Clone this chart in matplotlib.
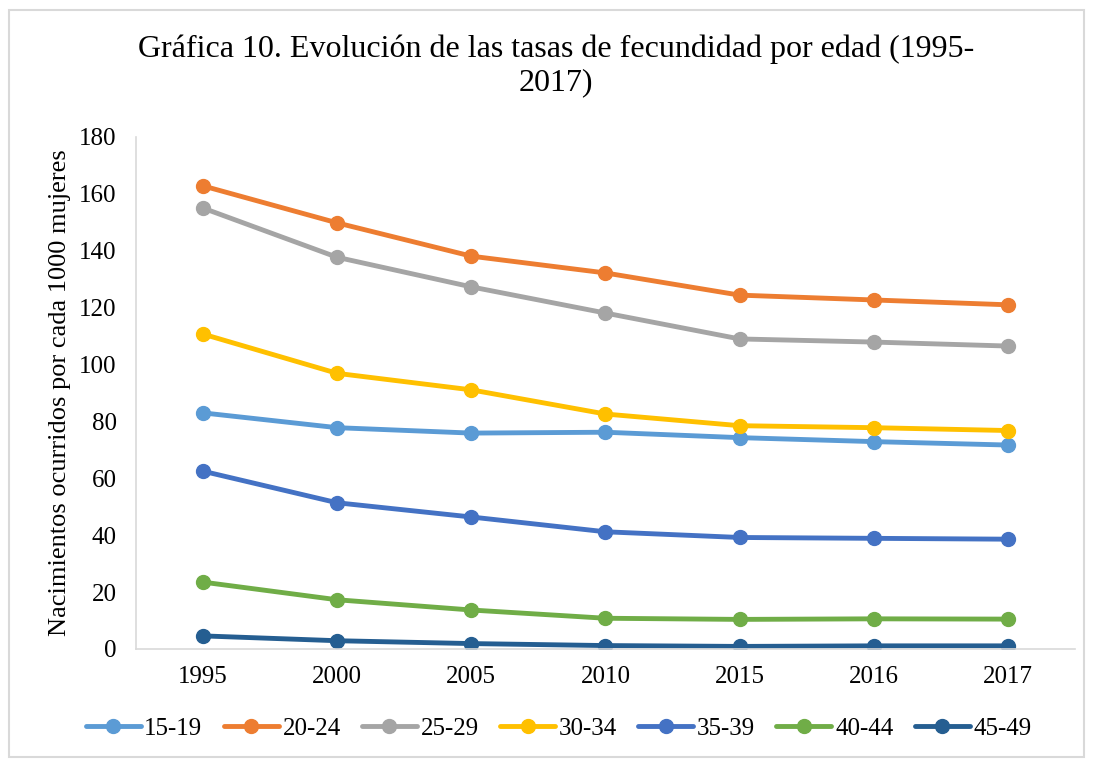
import matplotlib.pyplot as plt
from matplotlib.patches import Rectangle

plt.rcParams['font.family'] = ['Liberation Serif', 'DejaVu Serif']

years = ["1995", "2000", "2005", "2010", "2015", "2016", "2017"]
groups = ["15-19", "20-24", "25-29", "30-34", "35-39", "40-44", "45-49"]

r15_19 = [83.0, 77.8, 75.9, 76.2, 74.3, 72.9, 71.7]
r20_24 = [162.8, 149.8, 138.1, 132.2, 124.4, 122.7, 121.0]
r25_29 = [155.0, 137.7, 127.3, 118.1, 109.0, 107.9, 106.5]
r30_34 = [110.7, 96.9, 91.1, 82.6, 78.5, 77.8, 76.8]
r35_39 = [62.5, 51.4, 46.4, 41.2, 39.2, 38.9, 38.6]
r40_44 = [23.5, 17.3, 13.7, 10.8, 10.4, 10.6, 10.5]
r45_49 = [4.6, 2.9, 1.9, 1.2, 0.9, 1.1, 1.1]

series = [r15_19, r20_24, r25_29, r30_34, r35_39, r40_44, r45_49]
colors = ["#5B9BD5", "#ED7D31", "#A5A5A5", "#FFC000", "#4472C4", "#70AD47", "#255E91"]

fig = plt.figure(figsize=(10.93, 7.61), dpi=100)
ax = fig.add_axes([0.1244, 0.1472, 0.8591, 0.6728])

x = list(range(len(years)))
for vals, name, c in zip(series, groups, colors):
    ax.plot(x, vals, color=c, linewidth=3.5, marker='o', markersize=10,
            solid_capstyle='round', label=name)

ax.set_xlim(-0.5, 6.5)
ax.set_ylim(0, 180)
ax.set_yticks(range(0, 181, 20))
ax.set_xticks(x)
ax.set_xticklabels(years)
ax.tick_params(length=0, labelsize=18, colors='black')
ax.tick_params(axis='x', pad=12)
ax.tick_params(axis='y', pad=14)
for s in ['top', 'right']:
    ax.spines[s].set_visible(False)
for s in ['left', 'bottom']:
    ax.spines[s].set_color('#D9D9D9')
    ax.spines[s].set_linewidth(1.2)

ax.set_ylabel("Nacimientos ocurridos por cada 1000 mujeres", fontsize=19, labelpad=6)

fig.text(0.509, 0.913, "Gráfica 10. Evolución de las tasas de fecundidad por edad (1995-\n2017)",
         ha='center', va='center', fontsize=23, linespacing=1.2)

ax.legend(loc='center', bbox_to_anchor=(0.45, -0.155), ncol=7, frameon=False,
          fontsize=18, handlelength=2.2, handletextpad=0.15, columnspacing=0.85)

fig.patches.append(Rectangle((0.008, 0.005), 0.984, 0.982, transform=fig.transFigure,
                             fill=False, edgecolor='#D9D9D9', linewidth=1.5))

fig.savefig("out.png", dpi=100)
